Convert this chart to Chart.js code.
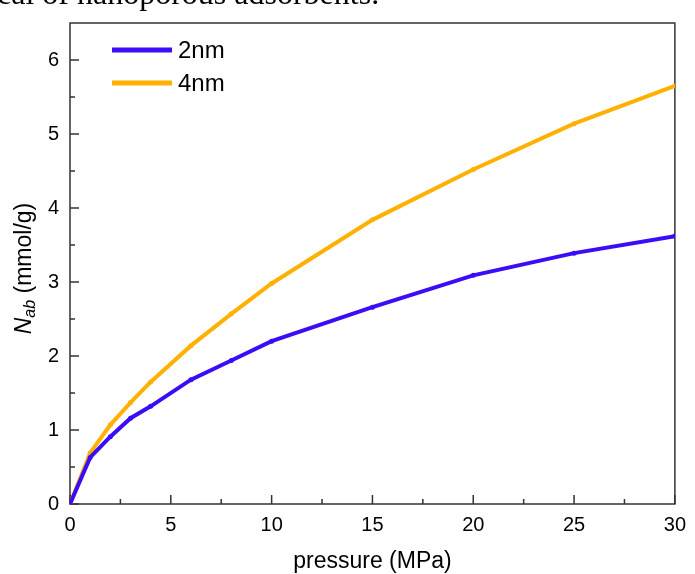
<!DOCTYPE html>
<html>
<head>
<meta charset="utf-8">
<script src="https://cdn.jsdelivr.net/npm/chart.js@4/dist/chart.umd.min.js"></script>
<style>
  html, body { margin: 0; padding: 0; background: #fff; }
  canvas { display: block; }
</style>
</head>
<body>
<canvas id="chart" width="695" height="574"></canvas>
<script>
/* adsorption isotherms */
const pressure = [0, 1, 2, 3, 4, 6, 8, 10, 15, 20, 25, 30];
const nab2nm = [0, 0.63, 0.91, 1.16, 1.32, 1.68, 1.94, 2.20, 2.66, 3.09, 3.39, 3.62];
const nab4nm = [0, 0.69, 1.07, 1.37, 1.65, 2.14, 2.57, 2.98, 3.84, 4.52, 5.14, 5.65];
const seriesNames = ['2nm', '4nm'];
const xTicks = [0, 5, 10, 15, 20, 25, 30];
const yTicks = [0, 1, 2, 3, 4, 5, 6];
const xMinor = [2.5, 7.5, 12.5, 17.5, 22.5, 27.5];
const yMinor = [0.5, 1.5, 2.5, 3.5, 4.5, 5.5];

const COLORS = { blue: '#3a0cf7', orange: '#ffb000', axis: '#333', text: '#000' };
const FONT = '"Liberation Sans", Arial, sans-serif';

function pts(ys) { return ys.map((y, i) => ({ x: pressure[i], y })); }

/* frame + inward ticks, Origin style */
const framePlugin = {
  id: 'frame',
  beforeDatasetsDraw(chart) {
    const { ctx, chartArea: a, scales: { x, y } } = chart;
    ctx.save();
    ctx.strokeStyle = COLORS.axis;
    ctx.lineWidth = 1.5;
    ctx.strokeRect(a.left, a.top, a.right - a.left, a.bottom - a.top);
    ctx.beginPath();
    xTicks.forEach(v => { const px = x.getPixelForValue(v); ctx.moveTo(px, a.bottom); ctx.lineTo(px, a.bottom - 9); });
    xMinor.forEach(v => { const px = x.getPixelForValue(v); ctx.moveTo(px, a.bottom); ctx.lineTo(px, a.bottom - 5); });
    yTicks.forEach(v => { const py = y.getPixelForValue(v); ctx.moveTo(a.left, py); ctx.lineTo(a.left + 9, py); });
    yMinor.forEach(v => { const py = y.getPixelForValue(v); ctx.moveTo(a.left, py); ctx.lineTo(a.left + 5, py); });
    ctx.stroke();
    ctx.restore();
  },
  afterDraw(chart) {
    const { ctx, chartArea: a } = chart;
    ctx.save();
    ctx.fillStyle = COLORS.text;

    // cropped caption text from the page above
    ctx.font = '32px "Liberation Serif", serif';
    ctx.textBaseline = 'alphabetic';
    ctx.textAlign = 'left';
    ctx.fillText('cal of nanoporous adsorbents.', -3, 4);

    // x title
    ctx.font = '23px ' + FONT;
    ctx.textAlign = 'center';
    ctx.textBaseline = 'middle';
    ctx.fillText('pressure (MPa)', (a.left + a.right) / 2, 562);

    // y title: N_ab (mmol/g)
    ctx.translate(25, (a.top + a.bottom) / 2 + 5);
    ctx.rotate(-Math.PI / 2);
    ctx.textAlign = 'left';
    const fN = 'italic 23px ' + FONT, fSub = 'italic 16px ' + FONT, fRest = '23px ' + FONT;
    ctx.font = fN; const wN = ctx.measureText('N').width;
    ctx.font = fSub; const wSub = ctx.measureText('ab').width;
    ctx.font = fRest; const wRest = ctx.measureText(' (mmol/g)').width;
    let cx = -(wN + wSub + wRest) / 2;
    ctx.font = fN; ctx.fillText('N', cx, 0); cx += wN;
    ctx.font = fSub; ctx.fillText('ab', cx, 6); cx += wSub;
    ctx.font = fRest; ctx.fillText(' (mmol/g)', cx, 0);
    ctx.restore();

    // legend
    ctx.save();
    ctx.font = '24px ' + FONT;
    ctx.textBaseline = 'middle';
    chart.data.datasets.forEach((ds, i) => {
      const yy = 50 + i * 33;
      ctx.strokeStyle = ds.borderColor;
      ctx.lineWidth = 5;
      ctx.beginPath(); ctx.moveTo(112, yy); ctx.lineTo(172, yy); ctx.stroke();
      ctx.fillStyle = COLORS.text;
      ctx.fillText(ds.label, 178, yy + 1);
    });
    ctx.restore();
  }
};

new Chart(document.getElementById('chart'), {
  type: 'line',
  data: {
    datasets: [
      { label: seriesNames[0], data: pts(nab2nm), borderColor: COLORS.blue, backgroundColor: COLORS.blue,
        borderWidth: 4, pointRadius: 2.5, pointBorderWidth: 0, tension: 0 },
      { label: seriesNames[1], data: pts(nab4nm), borderColor: COLORS.orange, backgroundColor: COLORS.orange,
        borderWidth: 4, pointRadius: 2.5, pointBorderWidth: 0, tension: 0 },
    ]
  },
  options: {
    responsive: false, animation: false,
    layout: { padding: { top: 11, right: 11, left: 0, bottom: 0 } },
    plugins: { legend: { display: false }, tooltip: { enabled: false } },
    scales: {
      x: {
        type: 'linear', min: 0, max: 30,
        afterBuildTicks: s => { s.ticks = xTicks.map(v => ({ value: v })); },
        afterFit: s => { s.height = 70; },
        grid: { display: false, drawTicks: false }, border: { display: false },
        ticks: { color: COLORS.text, font: { family: FONT, size: 20 }, padding: 9, maxRotation: 0 },
      },
      y: {
        type: 'linear', min: 0, max: 6.5,
        afterBuildTicks: s => { s.ticks = yTicks.map(v => ({ value: v })); },
        afterFit: s => { s.width = 70; },
        grid: { display: false, drawTicks: false }, border: { display: false },
        ticks: { color: COLORS.text, font: { family: FONT, size: 20 }, padding: 11 },
      }
    }
  },
  plugins: [framePlugin]
});
</script>
</body>
</html>
